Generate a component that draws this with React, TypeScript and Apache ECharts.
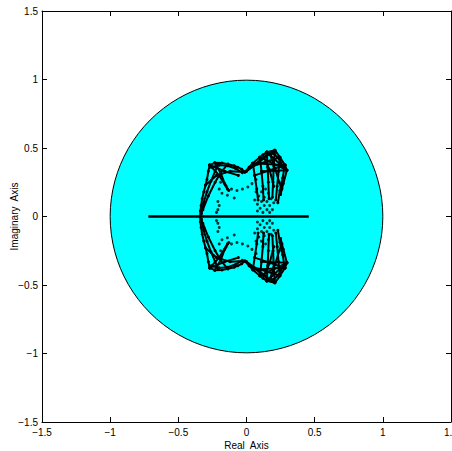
import React, { useEffect, useRef } from "react";
import * as echarts from "echarts";

// Axis ticks
const axisMin = -1.5;
const axisMax = 1.5;
const axisStep = 0.5;

// Unit circle: [center re, center im, radius]
const unitCircle = [[0, 0, 1]];

// Real-axis locus segment
const realSegment = [
  [-0.72, 0],
  [0.457, 0],
];

// Upper-half locus branches (re, im); lower half is the complex conjugate
const leftEdge = [
  [-0.34, 0], [-0.338, 0.04], [-0.333, 0.08], [-0.325, 0.13], [-0.313, 0.18],
  [-0.3, 0.23], [-0.29, 0.27], [-0.28, 0.33], [-0.27, 0.375],
];
const leftEdgeInner = [
  [-0.33, 0.02], [-0.315, 0.1], [-0.29, 0.18], [-0.26, 0.26], [-0.23, 0.33], [-0.21, 0.38],
];
const topLeftEdge = [
  [-0.27, 0.375], [-0.233, 0.392], [-0.18, 0.39], [-0.137, 0.382], [-0.09, 0.37],
  [-0.064, 0.36], [-0.035, 0.345], [-0.012, 0.325],
];
const topLeftInner = [
  [-0.26, 0.36], [-0.2, 0.375], [-0.14, 0.37], [-0.08, 0.35], [-0.03, 0.32],
];
const topRightEdge = [
  [-0.012, 0.325], [0.02, 0.36], [0.046, 0.389], [0.098, 0.433], [0.149, 0.47],
  [0.208, 0.484], [0.245, 0.433], [0.282, 0.375], [0.296, 0.338],
];
const topRightInner = [
  [0.0, 0.33], [0.05, 0.37], [0.1, 0.41], [0.15, 0.45], [0.2, 0.46], [0.24, 0.42], [0.27, 0.36],
];
const leftCross1 = [[-0.27, 0.375], [-0.2, 0.3], [-0.14, 0.2]];
const leftCross2 = [[-0.233, 0.392], [-0.19, 0.32], [-0.16, 0.24], [-0.13, 0.19]];
const leftCross3 = [[-0.32, 0.05], [-0.28, 0.15], [-0.23, 0.25], [-0.19, 0.32], [-0.137, 0.382]];
const leftCross4 = [[-0.27, 0.375], [-0.16, 0.33], [-0.06, 0.3]];
const leftCross6 = [[-0.3, 0.23], [-0.22, 0.3], [-0.12, 0.33], [-0.012, 0.325]];
const rightStrand1 = [[0.046, 0.389], [0.06, 0.3], [0.075, 0.2], [0.085, 0.12]];
const rightStrand2 = [[0.098, 0.433], [0.11, 0.33], [0.12, 0.22], [0.125, 0.12]];
const rightStrand3 = [[0.149, 0.47], [0.155, 0.36], [0.16, 0.25], [0.165, 0.13]];
const rightStrand4 = [[0.208, 0.484], [0.2, 0.37], [0.195, 0.25], [0.19, 0.14]];
const rightStrand5 = [[0.245, 0.433], [0.235, 0.33], [0.225, 0.22], [0.215, 0.12]];
const rightStrand6 = [[0.282, 0.375], [0.265, 0.28], [0.245, 0.19], [0.23, 0.1]];
const rightStrand7 = [[0.296, 0.338], [0.27, 0.24], [0.25, 0.16]];
const rightStrand8 = [[0.17, 0.46], [0.21, 0.35], [0.24, 0.25], [0.26, 0.2]];
const rightStrand9 = [[0.12, 0.45], [0.17, 0.34], [0.2, 0.22]];
const rightCross1 = [[0.046, 0.389], [0.282, 0.375]];
const rightCross2 = [[0.098, 0.433], [0.296, 0.338]];
const rightCross3 = [[0.02, 0.36], [0.245, 0.433]];
const rightCross4 = [[0.149, 0.47], [0.27, 0.36]];
const rightCross5 = [[0.06, 0.3], [0.282, 0.375]];
const rightCross6 = [[0.11, 0.33], [0.296, 0.338]];
const rightCross7 = [[0.0, 0.33], [0.208, 0.484]];

const branchesUpper = [
  leftEdge, leftEdgeInner, topLeftEdge, topLeftInner, topRightEdge, topRightInner,
  leftCross1, leftCross2, leftCross3, leftCross4, leftCross6,
  rightStrand1, rightStrand2, rightStrand3, rightStrand4, rightStrand5, rightStrand6,
  rightStrand7, rightStrand8, rightStrand9,
  rightCross1, rightCross2, rightCross3, rightCross4, rightCross5, rightCross6, rightCross7,
];

// Isolated root dots (upper half)
const rootDotsUpper = [
  [-0.19, 0.25], [-0.15, 0.225], [-0.11, 0.2], [-0.07, 0.19], [-0.03, 0.2], [0.01, 0.215],
  [0.04, 0.24], [0.07, 0.27],
  [-0.18, 0.17], [-0.14, 0.155], [-0.09, 0.135], [-0.2, 0.2], [-0.21, 0.11],
  [-0.21, 0.05], [-0.2, 0.08], [-0.22, 0.03],
  [0.08, 0.04], [0.08, 0.09], [0.09, 0.15], [0.1, 0.06], [0.11, 0.11], [0.11, 0.18],
  [0.12, 0.03], [0.13, 0.08], [0.13, 0.14], [0.14, 0.2], [0.15, 0.05], [0.15, 0.11],
  [0.16, 0.17], [0.17, 0.03], [0.17, 0.08], [0.18, 0.13], [0.19, 0.05], [0.2, 0.1],
  [0.06, 0.12], [0.07, 0.18],
];

const conj = (pts: number[][]) => pts.map(([re, im]) => [re, -im]);

const FONT = "Liberation Sans";
const fmt = (v: number) => String(v).replace("-", "\u2212");

export default function App() {
  const ref = useRef<HTMLDivElement>(null);
  useEffect(() => {
    if (!ref.current) return;
    const chart = echarts.init(ref.current, undefined, { renderer: "svg" });

    const tickCommon = { inside: true, length: 5, lineStyle: { color: "#000", width: 1 } };
    const lineCommon = { onZero: false, lineStyle: { color: "#000", width: 1 } };
    const labelCommon = { color: "#000", fontSize: 10, fontFamily: FONT, formatter: fmt };

    const branchSeries: any[] = [];
    branchesUpper.forEach((b) => {
      [b, conj(b)].forEach((pts) => {
        branchSeries.push({
          type: "line",
          data: pts,
          showSymbol: true,
          symbol: "circle",
          symbolSize: 3,
          itemStyle: { color: "#000" },
          lineStyle: { color: "#000", width: 2 },
          z: 3,
          silent: true,
        });
      });
    });

    chart.setOption({
      animation: false,
      backgroundColor: "#fff",
      grid: { left: 42, right: 1, top: 11, bottom: 29, containLabel: false, outerBoundsMode: "none" },
      xAxis: [
        {
          type: "value", min: axisMin, max: axisMax, interval: axisStep,
          position: "bottom",
          axisLine: lineCommon, axisTick: tickCommon,
          axisLabel: { ...labelCommon, margin: 5 },
          splitLine: { show: false },
          name: "Real\u00a0 Axis", nameLocation: "middle", nameGap: 18, nameMoveOverlap: false,
          nameTextStyle: { color: "#000", fontSize: 10, fontFamily: FONT },
        },
        {
          type: "value", min: axisMin, max: axisMax, interval: axisStep,
          position: "top",
          axisLine: lineCommon, axisTick: tickCommon,
          axisLabel: { show: false }, splitLine: { show: false },
        },
      ],
      yAxis: [
        {
          type: "value", min: axisMin, max: axisMax, interval: axisStep,
          position: "left",
          axisLine: lineCommon, axisTick: tickCommon,
          axisLabel: { ...labelCommon, margin: 4 },
          splitLine: { show: false },
          name: "Imaginary\u00a0 Axis", nameLocation: "middle", nameGap: 23, nameRotate: 90,
          nameMoveOverlap: false,
          nameTextStyle: { color: "#000", fontSize: 10, fontFamily: FONT },
        },
        {
          type: "value", min: axisMin, max: axisMax, interval: axisStep,
          position: "right",
          axisLine: lineCommon, axisTick: tickCommon,
          axisLabel: { show: false }, splitLine: { show: false },
        },
      ],
      series: [
        {
          type: "custom",
          data: unitCircle,
          encode: { x: 0, y: 1 },
          z: 1,
          silent: true,
          renderItem: (params: any, api: any) => {
            const c = api.coord([api.value(0), api.value(1)]);
            const r = api.size([api.value(2), 0])[0];
            return {
              type: "circle",
              shape: { cx: c[0], cy: c[1], r },
              style: { fill: "#00ffff", stroke: "#000", lineWidth: 1 },
            };
          },
        },
        ...branchSeries,
        {
          type: "scatter",
          data: [...rootDotsUpper, ...conj(rootDotsUpper)],
          symbol: "circle",
          symbolSize: 3,
          itemStyle: { color: "#000" },
          z: 4,
          silent: true,
        },
        {
          type: "line",
          data: realSegment,
          showSymbol: false,
          lineStyle: { color: "#000", width: 2.5 },
          z: 5,
          silent: true,
        },
      ],
    });
    return () => chart.dispose();
  }, []);
  return (
    <div
      ref={ref}
      style={{ position: "fixed", left: 0, top: 0, width: 452, height: 451, background: "#fff" }}
    />
  );
}
